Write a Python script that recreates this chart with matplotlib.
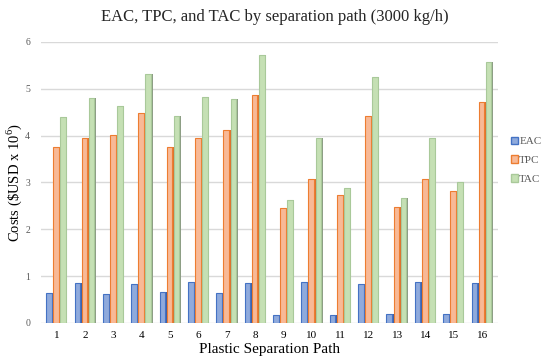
import numpy as np
import matplotlib
matplotlib.use("Agg")
import matplotlib.pyplot as plt
from matplotlib.patches import Patch

paths = [str(i) for i in range(1, 17)]
eac = [0.63, 0.85, 0.62, 0.83, 0.65, 0.87, 0.64, 0.86, 0.17, 0.87, 0.16, 0.83, 0.19, 0.88, 0.18, 0.85]
tpc = [3.76, 3.95, 4.02, 4.48, 3.76, 3.95, 4.12, 4.87, 2.46, 3.07, 2.73, 4.41, 2.47, 3.07, 2.82, 4.71]
tac = [4.40, 4.81, 4.64, 5.32, 4.42, 4.83, 4.77, 5.73, 2.63, 3.94, 2.88, 5.25, 2.66, 3.95, 3.01, 5.57]

plt.rcParams['font.family'] = ['Liberation Serif', 'DejaVu Serif']
plt.rcParams['mathtext.fontset'] = 'custom'
plt.rcParams['mathtext.rm'] = 'Liberation Serif'

fig = plt.figure(figsize=(5.5, 3.64), dpi=100)
ax = fig.add_axes([0.075, 0.113, 0.830, 0.772])

x = np.arange(len(paths))
w = 0.25
side = 0.05
series = [
    (eac, -w, '#8faadc', '#4472c4', '#3a5fa8', 'EAC'),
    (tpc, 0.0, '#f8b996', '#ed7d31', '#e0702a', 'TPC'),
    (tac, w, '#c5e0b4', '#a9c99a', '#8c9c84', 'TAC'),
]
for vals, off, face, edge, dark, lab in series:
    # darker side face to mimic the 3D look
    ax.bar(x + off + w / 2 - side / 2, vals, width=side, color=dark, zorder=2)
    ax.bar(x + off - side / 2, vals, width=w - side, color=face, edgecolor=edge,
           linewidth=0.8, zorder=3)

ax.set_ylim(0, 6)
ax.set_xlim(-0.55, 15.55)
ax.set_yticks(range(0, 7))
ax.set_xticks(x)
ax.set_xticklabels(paths)
ax.grid(axis='y', color='#d9d9d9', linewidth=1, zorder=0)
ax.set_axisbelow(True)
for s in ax.spines.values():
    s.set_visible(False)
ax.tick_params(axis='y', length=0, labelsize=7, labelcolor='#595959', pad=8)
ax.tick_params(axis='x', length=0, labelsize=8, pad=6)

ax.set_ylabel('Costs (\\$USD x 10$^{\\mathrm{6}}$)', fontsize=10.5)
ax.yaxis.set_label_coords(-0.038, 0.5)
ax.set_xlabel('Plastic Separation Path', fontsize=11, labelpad=2)
fig.suptitle('EAC, TPC, and TAC by separation path (3000 kg/h)', fontsize=12,
             color='#262626', y=0.975)

handles = [Patch(facecolor=f, edgecolor=e, label=l) for _, _, f, e, _, l in series]
fig.legend(handles=handles, loc='center left', bbox_to_anchor=(0.925, 0.56),
           frameon=False, fontsize=8, handlelength=0.6, handleheight=0.7,
           handletextpad=0.15, labelspacing=0.8, labelcolor='#595959',
           borderpad=0.2, borderaxespad=0)

fig.savefig('out.png', dpi=100)
